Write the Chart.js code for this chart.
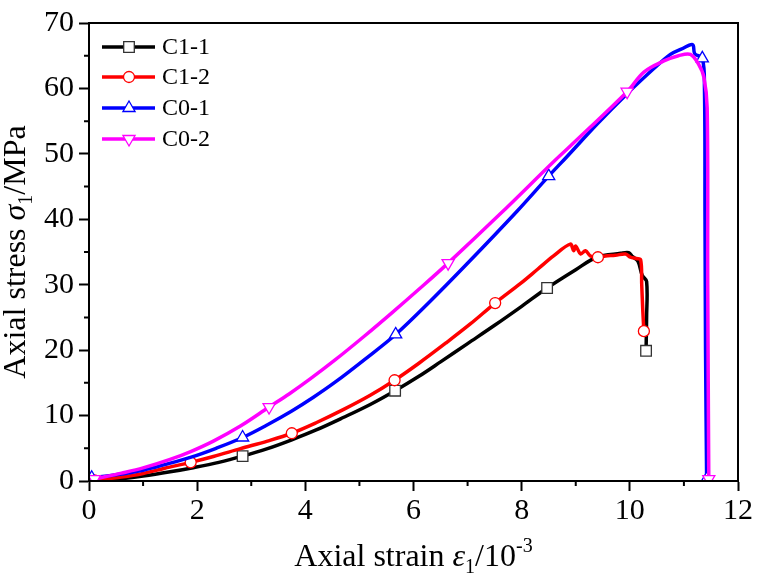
<!DOCTYPE html>
<html>
<head>
<meta charset="utf-8">
<script src="https://cdn.jsdelivr.net/npm/chart.js@4.4.0/dist/chart.umd.min.js"></script>
<style>
  body { margin: 0; background: #fff; }
  #wrap { width: 757px; height: 575px; }
</style>
</head>
<body>
<div id="wrap"><canvas id="stressChart" width="757" height="575"></canvas></div>
<script>
// strain (10^-3) and stress (MPa)
const strainC11 = [0.1, 0.6, 1.0, 1.5, 1.9, 2.4, 2.84, 3.3, 3.75, 4.2, 4.7, 5.2, 5.66, 6.1, 6.5, 7.0, 7.5, 8.0, 8.47, 9.0, 9.39, 9.83, 9.98, 10.05, 10.15, 10.23, 10.31, 10.31, 10.3];
const stressC11 = [0, 0.35, 0.75, 1.4, 2.0, 2.85, 3.8, 4.95, 6.3, 7.8, 9.7, 11.7, 13.8, 16.0, 18.2, 21.0, 23.8, 26.7, 29.5, 32.3, 34.2, 34.8, 34.9, 34.3, 33.6, 31.4, 30.5, 25, 19.9];
const markC11 = [0, 6, 12, 18, 28];

const strainC12 = [0.1, 0.6, 1.0, 1.4, 1.88, 2.3, 2.8, 3.3, 3.75, 4.2, 4.7, 5.2, 5.65, 6.1, 6.6, 7.05, 7.51, 7.98, 8.3, 8.59, 8.9, 8.96, 9.0, 9.09, 9.18, 9.27, 9.41, 9.55, 9.73, 9.92, 10.01, 10.12, 10.2, 10.22, 10.24, 10.26];
const stressC12 = [0.1, 0.6, 1.15, 1.95, 2.85, 3.75, 4.95, 6.1, 7.3, 8.9, 10.9, 13.1, 15.4, 18.0, 21.1, 24.0, 27.2, 30.2, 32.4, 34.4, 36.2, 35.2, 35.9, 34.7, 35.2, 34.4, 34.2, 34.4, 34.5, 34.7, 34.2, 34.0, 33.8, 30, 26, 22.9];
const markC12 = [0, 4, 8, 12, 16, 26, 35];

const strainC01 = [0.05, 0.5, 1.0, 1.4, 1.89, 2.35, 2.84, 3.3, 3.75, 4.15, 4.55, 5.1, 5.67, 6.3, 6.99, 7.91, 8.5, 8.84, 9.4, 9.95, 10.44, 10.75, 10.95, 11.16, 11.2, 11.34, 11.38, 11.39, 11.4, 11.42];
const stressC01 = [0.5, 0.95, 1.65, 2.5, 3.65, 5.0, 6.65, 8.6, 10.7, 12.8, 15.1, 18.6, 22.4, 27.4, 33.2, 41.2, 46.6, 49.6, 54.6, 59.2, 63.0, 65.2, 66.0, 66.7, 65.3, 64.6, 60, 40, 20, 0.3];
const markC01 = [0, 6, 12, 16, 25, 29];

const strainC02 = [0.1, 0.6, 1.0, 1.5, 1.88, 2.3, 2.8, 3.33, 3.7, 4.09, 4.55, 5.1, 5.6, 6.1, 6.64, 7.6, 8.59, 8.9, 9.95, 10.26, 10.63, 10.9, 11.12, 11.27, 11.37, 11.43, 11.44, 11.46];
const stressC02 = [0.3, 1.2, 2.0, 3.3, 4.5, 6.1, 8.4, 11.3, 13.3, 15.6, 18.5, 22.2, 25.7, 29.3, 33.3, 40.8, 48.8, 51.2, 59.5, 62.5, 64.2, 65.0, 65.2, 63.7, 61.7, 57.0, 30, 0.3];
const markC02 = [0, 7, 14, 18, 27];

const seriesNames = ['C1-1', 'C1-2', 'C0-1', 'C0-2'];
const xTicks = [0, 2, 4, 6, 8, 10, 12];
const yTicks = [0, 10, 20, 30, 40, 50, 60, 70];

const serif = "'Liberation Serif', 'Times New Roman', serif";

function makeSet(label, xs, ys, marks, color, edge, style, radius, rot, order) {
    return {
        label: label,
        data: xs.map((x, i) => ({ x: x, y: ys[i] })),
        borderColor: color,
        borderWidth: 3.5,
        pointStyle: style,
        pointRotation: rot,
        pointRadius: xs.map((x, i) => marks.includes(i) ? radius : 0),
        pointBorderColor: edge,
        pointBorderWidth: 1.3,
        pointBackgroundColor: '#fff',
        tension: 0.35,
        order: order
    };
}

const datasets = [
    makeSet(seriesNames[0], strainC11, stressC11, markC11, '#000000', '#333333', 'rect', 7.5, 0, 4),
    makeSet(seriesNames[1], strainC12, stressC12, markC12, '#ff0000', '#ff0000', 'circle', 5.5, 0, 3),
    makeSet(seriesNames[2], strainC01, stressC01, markC01, '#0000ff', '#0000ff', 'triangle', 7, 0, 2),
    makeSet(seriesNames[3], strainC02, stressC02, markC02, '#ff00ff', '#ff00ff', 'triangle', 7, 180, 1)
];

// draw a line of text made of pieces with their own font / offset
function drawPieces(ctx, pieces, cx, cy) {
    let total = 0;
    pieces.forEach(p => { ctx.font = p.font; p.w = ctx.measureText(p.text).width; total += p.w; });
    let x = cx - total / 2;
    pieces.forEach(p => {
        ctx.font = p.font;
        ctx.fillText(p.text, x, cy + (p.dy || 0));
        x += p.w;
    });
}

const framePlugin = {
    id: 'frame',
    afterDraw(chart) {
        const ctx = chart.ctx;
        const a = chart.chartArea;
        const xs = chart.scales.x, ys = chart.scales.y;
        ctx.save();
        ctx.strokeStyle = '#000';
        ctx.lineWidth = 2;
        ctx.strokeRect(a.left, a.top, a.right - a.left, a.bottom - a.top);

        // minor ticks
        ctx.beginPath();
        for (let v = 1; v < 12; v += 2) {
            const px = xs.getPixelForValue(v);
            ctx.moveTo(px, a.bottom);
            ctx.lineTo(px, a.bottom + 5);
        }
        for (let v = 5; v < 70; v += 10) {
            const py = ys.getPixelForValue(v);
            ctx.moveTo(a.left, py);
            ctx.lineTo(a.left - 5, py);
        }
        ctx.stroke();

        // axis titles
        ctx.fillStyle = '#000';
        ctx.textBaseline = 'alphabetic';
        ctx.textAlign = 'left';
        drawPieces(ctx, [
            { text: 'Axial strain ', font: '32px ' + serif },
            { text: 'ε', font: 'italic 32px ' + serif },
            { text: '1', font: '20px ' + serif, dy: 7 },
            { text: '/10', font: '32px ' + serif },
            { text: '-3', font: '20px ' + serif, dy: -14 }
        ], (a.left + a.right) / 2, 566);

        ctx.save();
        ctx.translate(25, (a.top + a.bottom) / 2);
        ctx.rotate(-Math.PI / 2);
        drawPieces(ctx, [
            { text: 'Axial stress ', font: '32px ' + serif },
            { text: 'σ', font: 'italic 32px ' + serif },
            { text: '1', font: '20px ' + serif, dy: 7 },
            { text: '/MPa', font: '32px ' + serif }
        ], 0, 0);
        ctx.restore();

        // legend
        const rowY = [47, 77, 108, 139];
        chart.data.datasets.forEach((ds, i) => {
            const y = rowY[i];
            ctx.beginPath();
            ctx.strokeStyle = ds.borderColor;
            ctx.lineWidth = ds.borderWidth;
            ctx.moveTo(102, y);
            ctx.lineTo(155, y);
            ctx.stroke();
            ctx.fillStyle = '#fff';
            ctx.strokeStyle = ds.pointBorderColor;
            ctx.lineWidth = ds.pointBorderWidth;
            const r = Math.max(...ds.pointRadius);
            Chart.helpers.drawPoint(ctx, { pointStyle: ds.pointStyle, rotation: ds.pointRotation, radius: r, borderWidth: ds.pointBorderWidth }, 129, y);
            ctx.fillStyle = '#000';
            ctx.font = '24px ' + serif;
            ctx.textBaseline = 'middle';
            ctx.fillText(ds.label, 162, y + 1);
        });
        ctx.restore();
    }
};

new Chart(document.getElementById('stressChart'), {
    type: 'line',
    data: { datasets: datasets },
    options: {
        responsive: false,
        animation: false,
        layout: { padding: { top: 15, right: 19, left: 0, bottom: 0 } },
        plugins: { legend: { display: false }, tooltip: { enabled: false } },
        scales: {
            x: {
                type: 'linear',
                min: 0, max: 12,
                afterBuildTicks: s => { s.ticks = xTicks.map(v => ({ value: v })); },
                afterFit: s => { s.height = 94; },
                ticks: { font: { family: serif, size: 30 }, color: '#000', padding: 2, maxRotation: 0, autoSkip: false },
                grid: { drawOnChartArea: false, drawTicks: true, tickLength: 10, tickWidth: 2, tickColor: '#000' },
                border: { display: true, color: '#000', width: 2 }
            },
            y: {
                type: 'linear',
                min: 0, max: 70,
                afterBuildTicks: s => { s.ticks = yTicks.map(v => ({ value: v })); },
                afterFit: s => { s.width = 89; },
                ticks: { font: { family: serif, size: 30 }, color: '#000', padding: 5, autoSkip: false },
                grid: { drawOnChartArea: false, drawTicks: true, tickLength: 10, tickWidth: 2, tickColor: '#000' },
                border: { display: true, color: '#000', width: 2 }
            }
        }
    },
    plugins: [framePlugin]
});
</script>
</body>
</html>
